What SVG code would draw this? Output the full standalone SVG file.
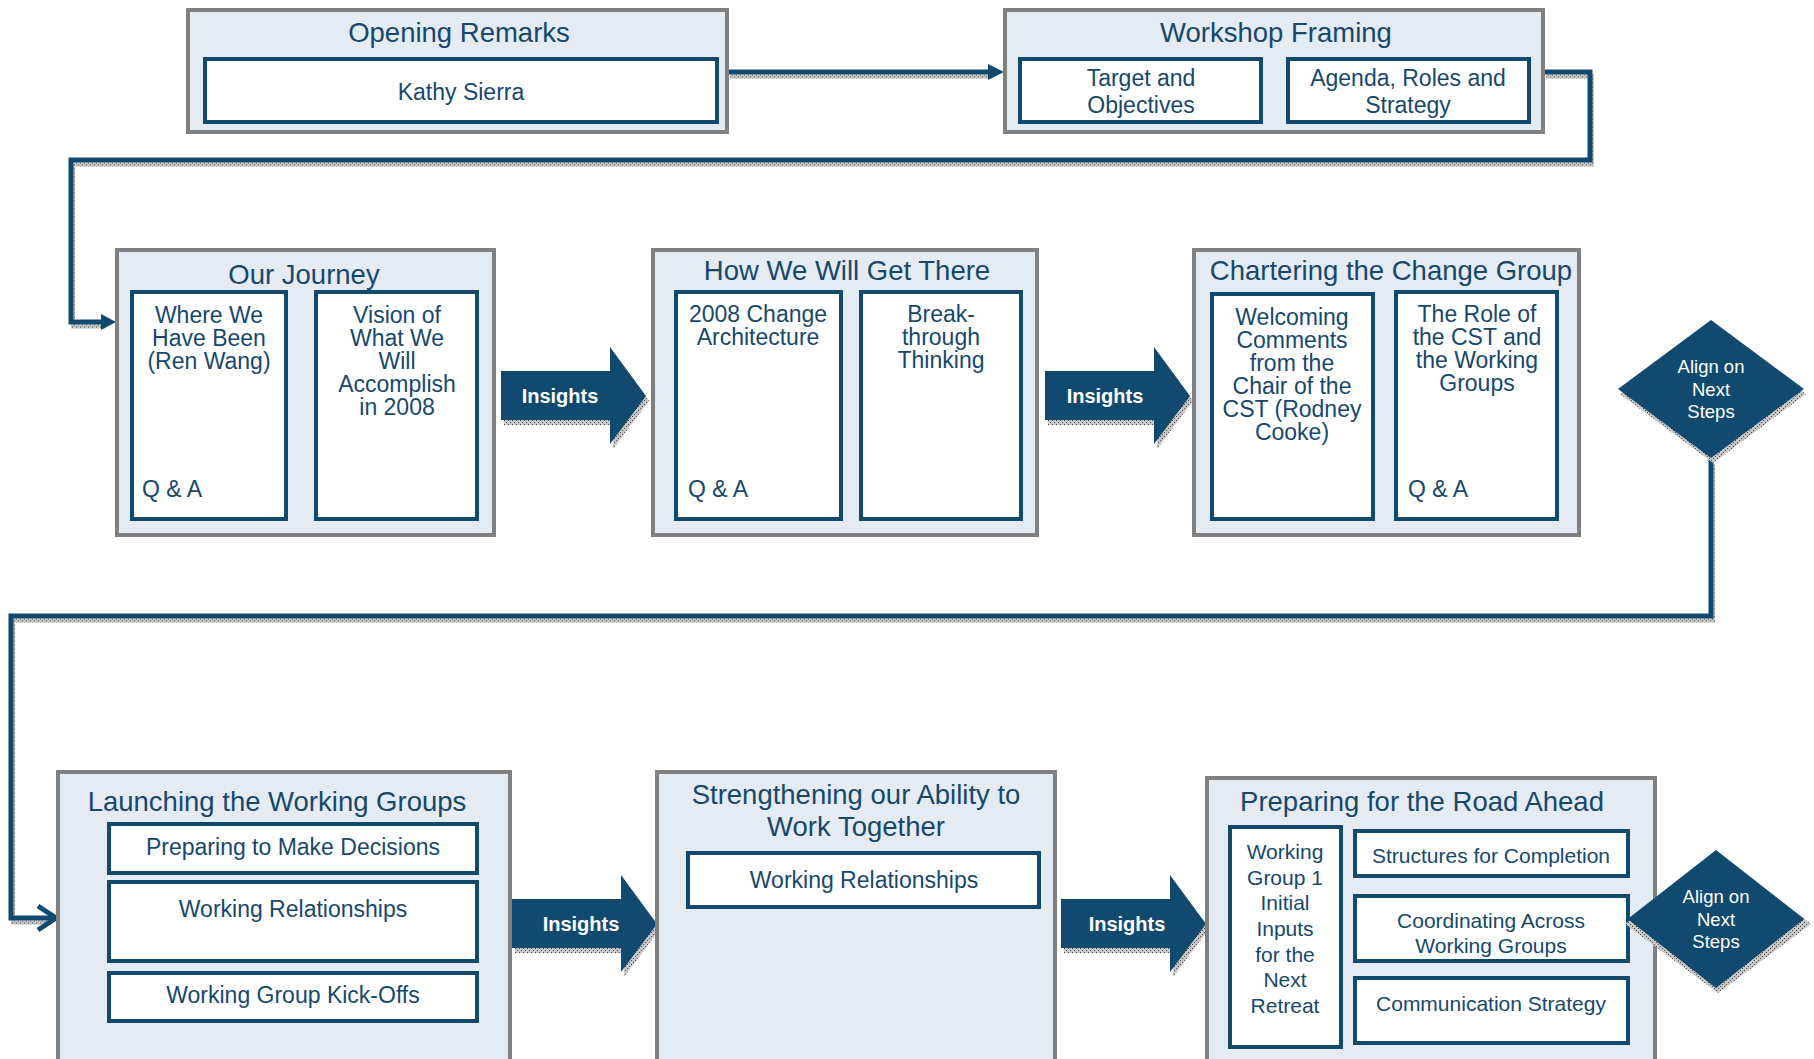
<svg xmlns="http://www.w3.org/2000/svg" width="1814" height="1059" viewBox="0 0 1814 1059">
  <style>
    text { font-family: "Liberation Sans", Arial, sans-serif; fill: #17486c; }
    .outer { fill: #e4ebf3; stroke: #808080; stroke-width: 4; }
    .inner { fill: #ffffff; stroke: #124a6e; stroke-width: 4; }
    .title { font-size: 27.5px; text-anchor: middle; }
    .body { font-size: 23px; text-anchor: middle; }
    .left { font-size: 23px; text-anchor: start; }
    .small { font-size: 21px; text-anchor: middle; }
    .arrow { fill: #114a6e; }
    .shadow { fill: url(#hatch); }
    .ins { font-size: 20px; font-weight: bold; fill: #ffffff; text-anchor: middle; }
    .dia { font-size: 18.5px; fill: #ffffff; text-anchor: middle; }
    .line { fill: none; stroke: #114a6e; stroke-width: 5; }
    .lineshadow { fill: none; stroke: url(#hatch); stroke-width: 4; }
  </style>
  <defs>
    <pattern id="hatch" width="4" height="4" patternUnits="userSpaceOnUse">
      <rect width="4" height="4" fill="#c6c6c6"/>
      <path d="M0 0h1v1H0zM2 2h1v1H2z" fill="#4e4e4e"/>
    </pattern>
    <polygon id="insight" points="0,0 109,0 109,-24 145,25 109,73 109,49 0,49"/>
    <polygon id="diamond" points="0,-69 93,0 0,69 -93,0"/>
  </defs>

  <rect width="1814" height="1059" fill="#ffffff"/>

  <!-- connectors -->
  <g id="connectors">
    <path class="lineshadow" transform="translate(2,4.5)" d="M728 72H990"/>
    <path class="line" d="M728 72H992"/>
    <polygon class="arrow" points="1004,72 988,64 988,80"/>

    <path class="lineshadow" transform="translate(2,4.5)" d="M1544 72H1590V160H71V322H103"/>
    <path class="line" d="M1544 72H1590V160H71V322H104"/>
    <polygon class="arrow" points="116,322 101,314 101,330"/>

    <path class="lineshadow" transform="translate(2,4.5)" d="M1711 460V616H11V918H50"/>
    <path class="line" d="M1711 458V616H11V918H54"/>
    <path class="line" stroke-width="4.5" d="M38 906L56 918L38 930"/>
  </g>

  <!-- Opening Remarks -->
  <g id="opening-remarks">
    <rect class="outer" x="188" y="10" width="539" height="122"/>
    <text class="title" x="459" y="42">Opening Remarks</text>
    <rect class="inner" x="205" y="59" width="512" height="63"/>
    <text class="body" x="461" y="100">Kathy Sierra</text>
  </g>

  <!-- Workshop Framing -->
  <g id="workshop-framing">
    <rect class="outer" x="1005" y="10" width="538" height="122"/>
    <text class="title" x="1276" y="42">Workshop Framing</text>
    <rect class="inner" x="1020" y="59" width="241" height="63"/>
    <text class="body" x="1141" y="86">Target and</text>
    <text class="body" x="1141" y="113">Objectives</text>
    <rect class="inner" x="1288" y="59" width="241" height="63"/>
    <text class="body" x="1408" y="86">Agenda, Roles and</text>
    <text class="body" x="1408" y="113">Strategy</text>
  </g>

  <!-- Our Journey -->
  <g id="our-journey">
    <rect class="outer" x="117" y="250" width="377" height="285"/>
    <text class="title" x="304" y="284">Our Journey</text>
    <rect class="inner" x="132" y="292" width="154" height="227"/>
    <text class="body" x="209" y="323">Where We</text>
    <text class="body" x="209" y="346">Have Been</text>
    <text class="body" x="209" y="369">(Ren Wang)</text>
    <text class="left" x="142" y="497">Q &amp; A</text>
    <rect class="inner" x="316" y="292" width="161" height="227"/>
    <text class="body" x="397" y="323">Vision of</text>
    <text class="body" x="397" y="346">What We</text>
    <text class="body" x="397" y="369">Will</text>
    <text class="body" x="397" y="392">Accomplish</text>
    <text class="body" x="397" y="415">in 2008</text>
  </g>

  <!-- Insights 1 -->
  <g id="insights-1" transform="translate(501,371)">
    <use href="#insight" class="shadow" transform="translate(3,5)"/>
    <use href="#insight" class="arrow"/>
    <text class="ins" x="59" y="32">Insights</text>
  </g>

  <!-- How We Will Get There -->
  <g id="how-we-will-get-there">
    <rect class="outer" x="653" y="250" width="384" height="285"/>
    <text class="title" x="847" y="280">How We Will Get There</text>
    <rect class="inner" x="676" y="292" width="165" height="227"/>
    <text class="body" x="758" y="322">2008 Change</text>
    <text class="body" x="758" y="345">Architecture</text>
    <text class="left" x="688" y="497">Q &amp; A</text>
    <rect class="inner" x="861" y="292" width="160" height="227"/>
    <text class="body" x="941" y="322">Break-</text>
    <text class="body" x="941" y="345">through</text>
    <text class="body" x="941" y="368">Thinking</text>
  </g>

  <!-- Insights 2 -->
  <g id="insights-2" transform="translate(1045,371)">
    <use href="#insight" class="shadow" transform="translate(3,5)"/>
    <use href="#insight" class="arrow"/>
    <text class="ins" x="60" y="32">Insights</text>
  </g>

  <!-- Chartering the Change Group -->
  <g id="chartering-the-change-group">
    <rect class="outer" x="1194" y="250" width="385" height="285"/>
    <text class="title" x="1391" y="280">Chartering the Change Group</text>
    <rect class="inner" x="1212" y="294" width="161" height="225"/>
    <text class="body" x="1292" y="325">Welcoming</text>
    <text class="body" x="1292" y="348">Comments</text>
    <text class="body" x="1292" y="371">from the</text>
    <text class="body" x="1292" y="394">Chair of the</text>
    <text class="body" x="1292" y="417">CST (Rodney</text>
    <text class="body" x="1292" y="440">Cooke)</text>
    <rect class="inner" x="1396" y="292" width="161" height="227"/>
    <text class="body" x="1477" y="322">The Role of</text>
    <text class="body" x="1477" y="345">the CST and</text>
    <text class="body" x="1477" y="368">the Working</text>
    <text class="body" x="1477" y="391">Groups</text>
    <text class="left" x="1408" y="497">Q &amp; A</text>
  </g>

  <!-- Align on Next Steps (row 2) -->
  <g id="align-1" transform="translate(1711,389)">
    <use href="#diamond" class="shadow" transform="translate(2,5)"/>
    <use href="#diamond" class="arrow"/>
    <text class="dia" x="0" y="-16">Align on</text>
    <text class="dia" x="0" y="7">Next</text>
    <text class="dia" x="0" y="29">Steps</text>
  </g>

  <!-- Launching the Working Groups -->
  <g id="launching-the-working-groups">
    <rect class="outer" x="58" y="772" width="452" height="300"/>
    <text class="title" x="277" y="811">Launching the Working Groups</text>
    <rect class="inner" x="109" y="824" width="368" height="49"/>
    <text class="body" x="293" y="855">Preparing to Make Decisions</text>
    <rect class="inner" x="109" y="882" width="368" height="79"/>
    <text class="body" x="293" y="917">Working Relationships</text>
    <rect class="inner" x="109" y="973" width="368" height="48"/>
    <text class="body" x="293" y="1003">Working Group Kick-Offs</text>
  </g>

  <!-- Insights 3 -->
  <g id="insights-3" transform="translate(512,899)">
    <use href="#insight" class="shadow" transform="translate(3,5)"/>
    <use href="#insight" class="arrow"/>
    <text class="ins" x="69" y="32">Insights</text>
  </g>

  <!-- Strengthening our Ability to Work Together -->
  <g id="strengthening-our-ability">
    <rect class="outer" x="657" y="772" width="398" height="300"/>
    <text class="title" x="856" y="804">Strengthening our Ability to</text>
    <text class="title" x="856" y="836">Work Together</text>
    <rect class="inner" x="688" y="853" width="351" height="54"/>
    <text class="body" x="864" y="888">Working Relationships</text>
  </g>

  <!-- Insights 4 -->
  <g id="insights-4" transform="translate(1061,899)">
    <use href="#insight" class="shadow" transform="translate(3,5)"/>
    <use href="#insight" class="arrow"/>
    <text class="ins" x="66" y="32">Insights</text>
  </g>

  <!-- Preparing for the Road Ahead -->
  <g id="preparing-for-the-road-ahead">
    <rect class="outer" x="1207" y="778" width="448" height="300"/>
    <text class="title" x="1422" y="811">Preparing for the Road Ahead</text>
    <rect class="inner" x="1230" y="827" width="111" height="220"/>
    <text class="small" x="1285" y="859">Working</text>
    <text class="small" x="1285" y="885">Group 1</text>
    <text class="small" x="1285" y="910">Initial</text>
    <text class="small" x="1285" y="936">Inputs</text>
    <text class="small" x="1285" y="962">for the</text>
    <text class="small" x="1285" y="987">Next</text>
    <text class="small" x="1285" y="1013">Retreat</text>
    <rect class="inner" x="1355" y="831" width="273" height="45"/>
    <text class="small" x="1491" y="863">Structures for Completion</text>
    <rect class="inner" x="1355" y="896" width="273" height="65"/>
    <text class="small" x="1491" y="928">Coordinating Across</text>
    <text class="small" x="1491" y="953">Working Groups</text>
    <rect class="inner" x="1355" y="978" width="273" height="65"/>
    <text class="small" x="1491" y="1011">Communication Strategy</text>
  </g>

  <!-- Align on Next Steps (row 3) -->
  <g id="align-2" transform="translate(1716,919)">
    <use href="#diamond" class="shadow" transform="translate(2,5)"/>
    <use href="#diamond" class="arrow" transform="scale(0.95,1)"/>
    <text class="dia" x="0" y="-16">Align on</text>
    <text class="dia" x="0" y="7">Next</text>
    <text class="dia" x="0" y="29">Steps</text>
  </g>
</svg>
